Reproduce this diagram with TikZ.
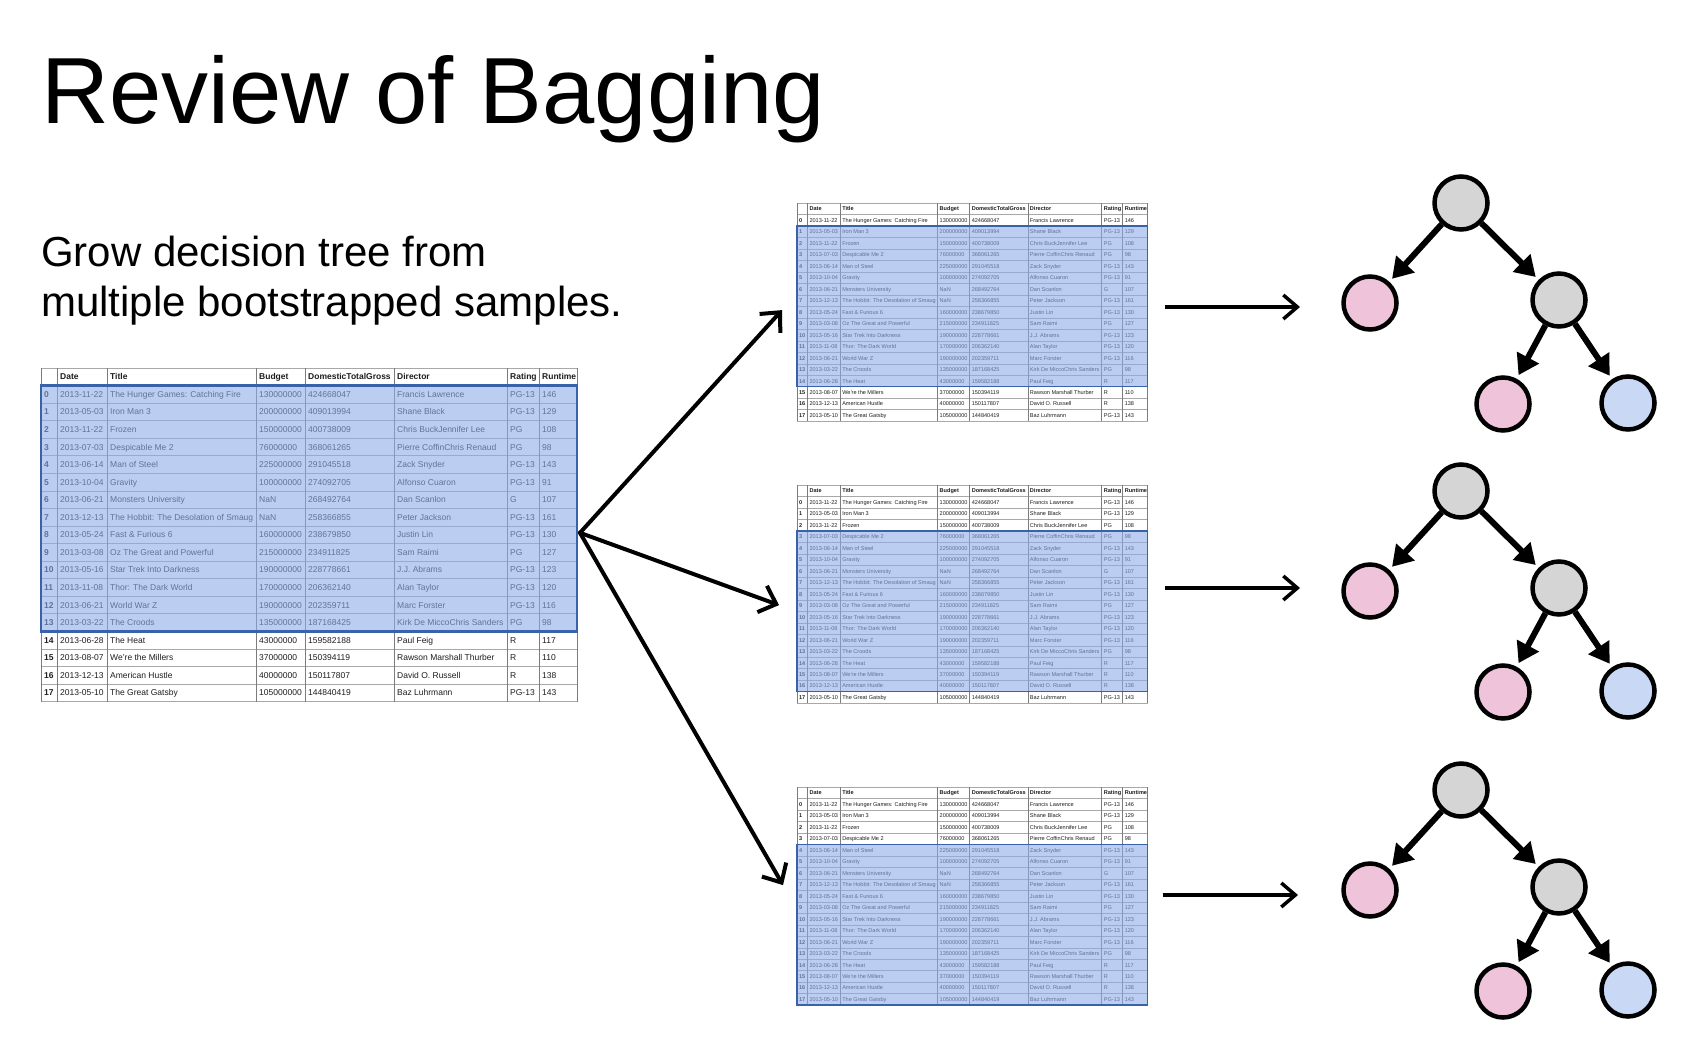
\documentclass[tikz,border=0pt]{standalone}
\usepackage{fontspec}
\setmainfont{Liberation Sans}
\usetikzlibrary{arrows.meta,calc}

\definecolor{gridline}{HTML}{A8A8A8}
\definecolor{colline}{HTML}{7C7C7C}
\definecolor{celltext}{HTML}{1E1E1E}
\definecolor{hlfill}{HTML}{8FACE9}
\definecolor{hlborder}{HTML}{3A62A8}
\definecolor{nodegray}{HTML}{D5D5D5}
\definecolor{nodepink}{HTML}{EFC3DA}
\definecolor{nodeblue}{HTML}{C9D8F5}

\tikzset{
  cell/.style={anchor=west, inner sep=0pt, text height=6.1pt, text depth=0pt,
    font=\fontsize{8.5}{8.5}\selectfont, text=celltext},
  headcell/.style={cell, font=\fontsize{8.5}{8.5}\selectfont\bfseries},
  tnode/.style={circle, draw=black, line width=4.5pt, minimum size=53pt, inner sep=0pt},
  tedge/.style={line width=6pt, -{Triangle[length=20pt,width=24pt]}, shorten >=4pt},
  fan/.style={line width=4pt, line cap=round, -{Straight Barb[length=15pt,width=28pt]}},
  harrow/.style={line width=3.5pt, -{Straight Barb[length=14pt,width=24pt]}},
}

% one table row: #1 = row slot (0 = header), #2..#9 = cell texts
\newcommand{\trow}[9]{%
  \pgfmathsetmacro{\ry}{(#1+0.5)*17.56}%
  \node[headcell] (\tname-#1-a) at (3,\ry) {#2};
  \node[\cellstyle] (\tname-#1-b) at (19,\ry) {#3};
  \node[\cellstyle] (\tname-#1-c) at (69,\ry) {#4};
  \node[\cellstyle] (\tname-#1-d) at (218,\ry) {#5};
  \node[\cellstyle] (\tname-#1-e) at (267,\ry) {#6};
  \node[\cellstyle] (\tname-#1-f) at (356,\ry) {#7};
  \node[\cellstyle] (\tname-#1-g) at (469,\ry) {#8};
  \node[\cellstyle] (\tname-#1-h) at (501,\ry) {#9};
}

\newcommand{\moviedata}{%
  \def\cellstyle{headcell}%
  \trow{0}{}{Date}{Title}{Budget}{DomesticTotalGross}{Director}{Rating}{Runtime}
  \def\cellstyle{cell}%
  \trow{1}{0}{2013-11-22}{The Hunger Games: Catching Fire}{130000000}{424668047}{Francis Lawrence}{PG-13}{146}
  \trow{2}{1}{2013-05-03}{Iron Man 3}{200000000}{409013994}{Shane Black}{PG-13}{129}
  \trow{3}{2}{2013-11-22}{Frozen}{150000000}{400738009}{Chris BuckJennifer Lee}{PG}{108}
  \trow{4}{3}{2013-07-03}{Despicable Me 2}{76000000}{368061265}{Pierre CoffinChris Renaud}{PG}{98}
  \trow{5}{4}{2013-06-14}{Man of Steel}{225000000}{291045518}{Zack Snyder}{PG-13}{143}
  \trow{6}{5}{2013-10-04}{Gravity}{100000000}{274092705}{Alfonso Cuaron}{PG-13}{91}
  \trow{7}{6}{2013-06-21}{Monsters University}{NaN}{268492764}{Dan Scanlon}{G}{107}
  \trow{8}{7}{2013-12-13}{The Hobbit: The Desolation of Smaug}{NaN}{258366855}{Peter Jackson}{PG-13}{161}
  \trow{9}{8}{2013-05-24}{Fast \& Furious 6}{160000000}{238679850}{Justin Lin}{PG-13}{130}
  \trow{10}{9}{2013-03-08}{Oz The Great and Powerful}{215000000}{234911825}{Sam Raimi}{PG}{127}
  \trow{11}{10}{2013-05-16}{Star Trek Into Darkness}{190000000}{228778661}{J.J. Abrams}{PG-13}{123}
  \trow{12}{11}{2013-11-08}{Thor: The Dark World}{170000000}{206362140}{Alan Taylor}{PG-13}{120}
  \trow{13}{12}{2013-06-21}{World War Z}{190000000}{202359711}{Marc Forster}{PG-13}{116}
  \trow{14}{13}{2013-03-22}{The Croods}{135000000}{187168425}{Kirk De MiccoChris Sanders}{PG}{98}
  \trow{15}{14}{2013-06-28}{The Heat}{43000000}{159582188}{Paul Feig}{R}{117}
  \trow{16}{15}{2013-08-07}{We're the Millers}{37000000}{150394119}{Rawson Marshall Thurber}{R}{110}
  \trow{17}{16}{2013-12-13}{American Hustle}{40000000}{150117807}{David O. Russell}{R}{138}
  \trow{18}{17}{2013-05-10}{The Great Gatsby}{105000000}{144840419}{Baz Luhrmann}{PG-13}{143}
}

% #1 name, #2 x, #3 y, #4 scale, #5 first and #6 last highlighted data row
\newcommand{\movietable}[6]{%
  \node[inner sep=0pt, outer sep=0pt, minimum width={536*#4}, minimum height={333.64*#4},
        anchor=north west] (#1) at (#2,#3) {};
  \begin{scope}[shift={(#2,#3)}, scale=#4, transform shape]
    \def\tname{#1}
    \fill[white] (0,0) rectangle (536,333.64);
    \foreach \k in {0,...,19}
      \draw[gridline, line width={0.8pt*#4}] (0,\k*17.56) -- (536,\k*17.56);
    \foreach \c in {0,16,66,215,264,353,466,498,536}
      \draw[colline, line width={0.9pt*#4}] (\c,0) -- (\c,333.64);
    \moviedata
    \fill[hlfill, opacity=0.6] (0,{(#5+1)*17.56}) rectangle (536,{(#6+2)*17.56});
    \draw[hlborder, line width={2.2pt*#4}] (0,{(#5+1)*17.56}) rectangle (536,{(#6+2)*17.56});
  \end{scope}
}

% a small decision tree: #1 name, #2/#3 root position
\newcommand{\dtree}[3]{%
  \node[tnode, fill=nodegray] (#1-root) at (#2,#3) {};
  \node[tnode, fill=nodepink] (#1-l) at ($(#1-root)+(-91,100)$) {};
  \node[tnode, fill=nodegray] (#1-r) at ($(#1-root)+(98,97)$) {};
  \node[tnode, fill=nodepink] (#1-rl) at ($(#1-root)+(42,201)$) {};
  \node[tnode, fill=nodeblue] (#1-rr) at ($(#1-root)+(167,200)$) {};
  \draw[tedge] (#1-root) -- (#1-l);
  \draw[tedge] (#1-root) -- (#1-r);
  \draw[tedge] (#1-r) -- (#1-rl);
  \draw[tedge] (#1-r) -- (#1-rr);
}

\begin{document}
\begin{tikzpicture}[x=1pt, y=-1pt]
  \useasboundingbox (0,0) rectangle (1702,1038);
  \fill[white] (0,0) rectangle (1702,1038);

  \node[anchor=base west, inner sep=0pt, font=\fontsize{94}{94}\selectfont] (title) at (41,124) {Review of Bagging};
  \node[anchor=base west, inner sep=0pt, font=\fontsize{42}{42}\selectfont] (sub1) at (41,266) {Grow decision tree from};
  \node[anchor=base west, inner sep=0pt, font=\fontsize{42}{42}\selectfont] (sub2) at (41,316) {multiple bootstrapped samples.};

  % full data set and three bootstrap samples
  \movietable{main}{41}{368}{1}{0}{13}
  \movietable{s1}{797}{203}{0.654}{1}{14}
  \movietable{s2}{797}{485}{0.654}{3}{16}
  \movietable{s3}{797}{787}{0.654}{4}{17}

  \draw[fan] ($(main.east)+(3,-2)$) -- ($(s1.west)+(-15,-2)$);
  \draw[fan] ($(main.east)+(3,-2)$) -- ($(s2.west)+(-18,11)$);
  \draw[fan] ($(main.east)+(3,-2)$) -- ($(s3.west)+(-14,-11)$);

  % one tree per sample
  \dtree{t1}{1461}{203}
  \dtree{t2}{1461}{491}
  \dtree{t3}{1461}{790}

  \draw[harrow] ($(s1.east |- t1-l)+(17,4)$) -- ($(t1-l)+(-70,4)$);
  \draw[harrow] ($(s2.east |- t2-l)+(17,-3)$) -- ($(t2-l)+(-70,-3)$);
  \draw[harrow] ($(s3.east |- t3-l)+(15,5)$) -- ($(t3-l)+(-72,5)$);
\end{tikzpicture}
\end{document}
